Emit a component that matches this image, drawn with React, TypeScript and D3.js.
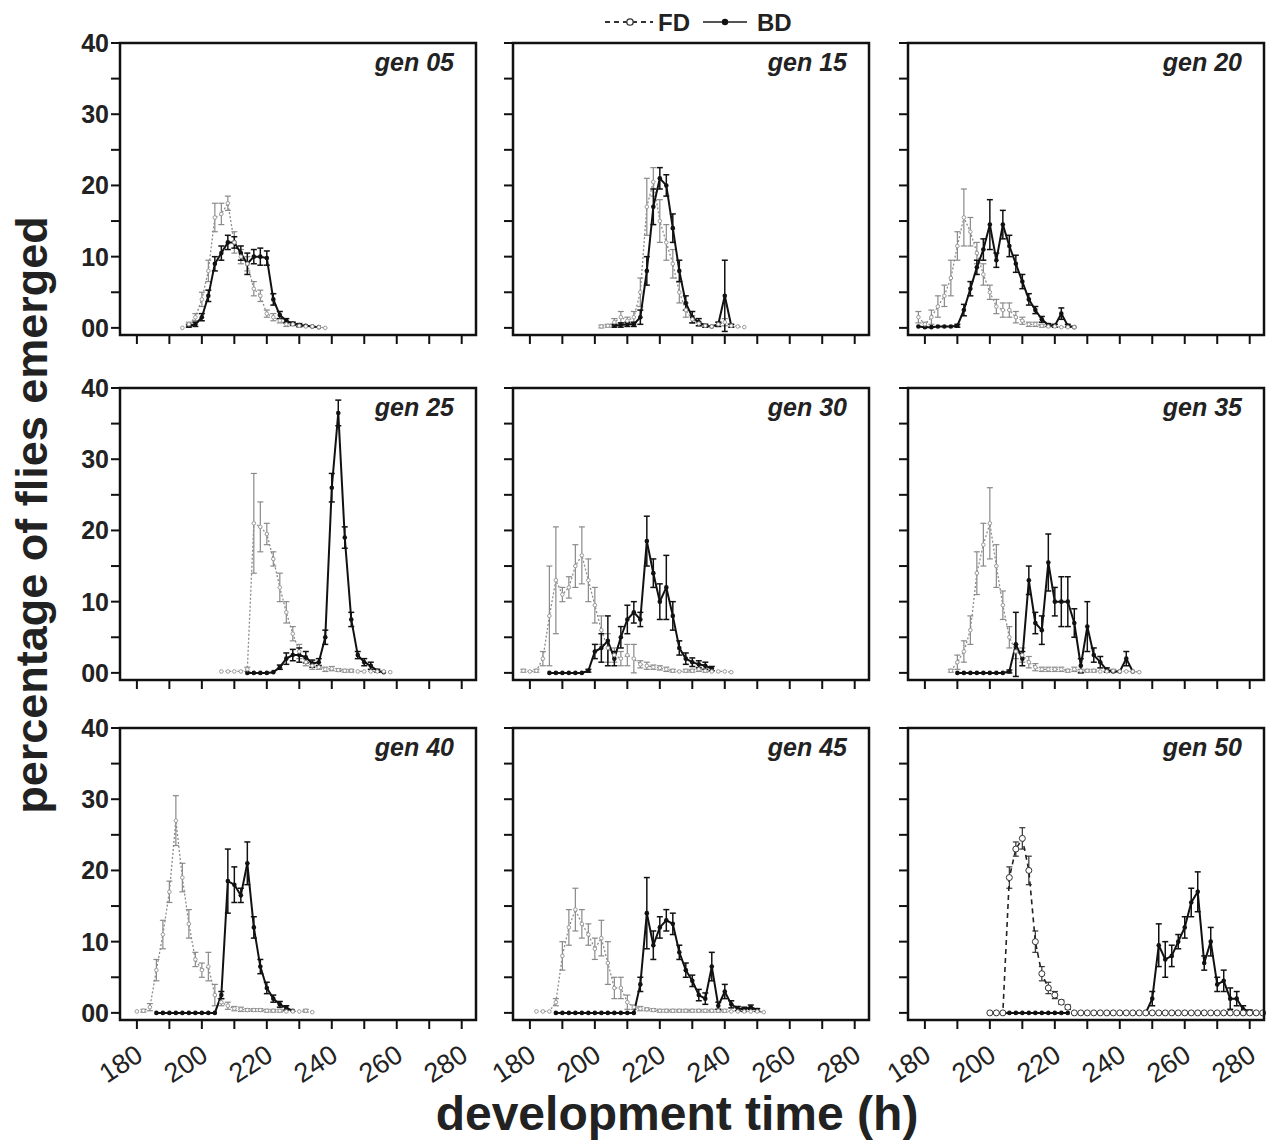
import React from 'react';
import * as d3 from 'd3';

const W = 1277;
const H = 1142;
const FONT = '"Liberation Sans", Arial, Helvetica, sans-serif';
const STEP = 2; // sampling interval in hours

// ---------- data (percentage of flies emerged, 2 h bins) ----------
const gen05FdStart = 194;
const gen05Fd = [0, 0.5, 1.5, 4, 8, 15.5, 16, 17.5, 12, 10, 9, 5.5, 4.5, 2, 1.5, 1, 0.5, 0.5, 0.3, 0.2, 0.2, 0.1, 0];
const gen05FdErr = [0, 0.3, 0.5, 1, 1.5, 2, 1.5, 1, 1.5, 1, 1, 1, 0.8, 0.5, 0.5, 0.3, 0.3, 0.2, 0.2, 0.1, 0.1, 0.1, 0];
const gen05BdStart = 196;
const gen05Bd = [0.3, 0.5, 1.5, 4.5, 9, 10.5, 12, 12, 10.5, 9, 10, 10, 9.8, 4, 1.8, 1, 0.6, 0.4, 0.3, 0.2, 0.1];
const gen05BdErr = [0.2, 0.3, 0.5, 0.8, 1, 1, 1, 0.8, 1, 1.5, 1, 1.2, 1, 0.8, 0.5, 0.3, 0.2, 0.2, 0.1, 0.1, 0];

const gen15FdStart = 202;
const gen15Fd = [0.2, 0.3, 0.8, 1.5, 1, 1.5, 5, 17, 20.5, 15, 12, 9, 5, 2.5, 1.2, 0.6, 0.3, 0.2, 0.5, 0.8, 0.3, 0.2, 0.1];
const gen15FdErr = [0.2, 0.2, 0.5, 0.8, 0.5, 0.8, 2, 4, 2, 3, 2.5, 2, 1.5, 1, 0.5, 0.3, 0.2, 0.1, 0.3, 0.5, 0.2, 0.1, 0];
const gen15BdStart = 206;
const gen15Bd = [0.3, 0.4, 0.5, 0.5, 1.5, 8, 17, 21, 20, 14, 8, 3.5, 1.5, 0.8, 0.3, 0.2, 0.5, 4.5, 0.3];
const gen15BdErr = [0.2, 0.3, 0.3, 0.3, 1, 2, 2.5, 1.5, 1.5, 2, 1.5, 1, 0.8, 0.5, 0.2, 0.1, 0.3, 5, 0.2];

const gen20FdStart = 178;
const gen20Fd = [1.5, 0.5, 1.5, 3, 4.5, 7, 11.5, 15.5, 13.5, 10.5, 7.5, 5, 3, 2.5, 2.5, 1.5, 1, 0.5, 0.5, 0.3, 0.2, 0.2, 0.1, 0.1, 0.1];
const gen20FdErr = [0.8, 0.3, 1, 1.5, 1.5, 2.5, 2, 4, 2, 1.5, 1.5, 1, 1, 1, 1, 0.8, 0.5, 0.3, 0.3, 0.2, 0.1, 0.1, 0.1, 0.1, 0];
const gen20BdStart = 178;
const gen20Bd = [0.2, 0.1, 0.1, 0.2, 0.2, 0.2, 0.3, 2.5, 5.5, 8.5, 11, 14.5, 9.5, 14.5, 11.5, 9, 6.5, 4, 2.5, 1.2, 0.4, 0.3, 2, 0.3, 0.1];
const gen20BdErr = [0.1, 0.1, 0.1, 0.1, 0.1, 0.1, 0.2, 0.8, 1, 1, 1.5, 3.5, 1, 2, 1.5, 1.2, 1, 0.8, 0.5, 0.4, 0.2, 0.2, 0.8, 0.2, 0];

const gen25FdStart = 206;
const gen25Fd = [0.2, 0.2, 0.2, 0.2, 0.5, 21, 20.5, 19.5, 16, 12, 8.5, 5.5, 3, 1.5, 1, 0.8, 0.5, 0.6, 0.4, 0.3, 0.3, 0.2, 0.2, 0.2, 0.2, 0.2, 0.1];
const gen25FdErr = [0.1, 0.1, 0.1, 0.1, 0.3, 7, 3.5, 1.5, 1, 2, 1.5, 1, 1, 0.5, 0.5, 0.3, 0.3, 0.3, 0.2, 0.2, 0.2, 0.1, 0.1, 0.1, 0.1, 0.1, 0];
const gen25BdStart = 214;
const gen25Bd = [0, 0, 0, 0, 0.1, 0.8, 2, 2.5, 2.5, 2.2, 1.3, 1.5, 5, 26, 36.5, 19, 7.5, 2.5, 1.5, 1, 0.3, 0.1];
const gen25BdErr = [0, 0, 0, 0, 0.1, 0.3, 0.8, 0.8, 1, 0.8, 0.5, 0.5, 1, 2, 1.8, 1.5, 1, 0.5, 0.5, 0.5, 0.2, 0];

const gen30FdStart = 178;
const gen30Fd = [0.3, 0.2, 0.3, 2, 8, 13, 11, 12, 15, 16.5, 13, 9.5, 6, 3.5, 2.5, 2, 2.5, 2, 1.2, 1, 0.8, 0.7, 0.5, 0.3, 0.2, 0.3, 0.3, 0.5, 0.3, 0.2, 0.2, 0.2, 0.1];
const gen30FdErr = [0.2, 0.1, 0.2, 1, 7, 7.5, 1, 1.5, 3, 4, 3, 2.5, 2, 2, 1, 1, 1.5, 2, 0.5, 0.5, 0.3, 0.3, 0.3, 0.2, 0.1, 0.2, 0.2, 0.3, 0.2, 0.1, 0.1, 0.1, 0];
const gen30BdStart = 186;
const gen30Bd = [0, 0, 0, 0, 0, 0, 0.3, 3, 3.5, 4.5, 2, 5, 7.5, 8.5, 7.5, 18.5, 14, 10, 12, 8, 3.5, 2, 1.5, 1.2, 1, 0.6];
const gen30BdErr = [0, 0, 0, 0, 0, 0, 0.2, 1, 2, 3.5, 1, 1.5, 2, 1.5, 1, 3.5, 2, 2.5, 4.5, 2, 1, 0.8, 0.6, 0.5, 0.5, 0.3];

const gen35FdStart = 188;
const gen35Fd = [0.3, 1.5, 3, 6, 14, 18, 21, 15, 9.5, 5, 3, 2.5, 1.5, 0.8, 0.5, 0.5, 0.5, 0.5, 0.3, 0.5, 0.3, 0.3, 0.3, 0.2, 0.2, 0.3, 0.2, 0.2, 0.2, 0.1];
const gen35FdErr = [0.2, 1, 1.5, 2, 3, 3, 5, 3, 2, 1.5, 1, 1, 0.8, 0.5, 0.3, 0.3, 0.3, 0.3, 0.2, 0.3, 0.2, 0.2, 0.2, 0.1, 0.1, 0.2, 0.1, 0.1, 0.1, 0];
const gen35BdStart = 190;
const gen35Bd = [0, 0, 0, 0, 0, 0, 0, 0, 0.2, 4, 2, 13, 7, 6, 15.5, 10, 10, 10, 7, 1, 6.5, 2.5, 1.5, 0.4, 0.2, 0.2, 2, 0.2];
const gen35BdErr = [0, 0, 0, 0, 0, 0, 0, 0, 0.2, 4.5, 1, 2, 1.5, 2, 4, 2, 3.5, 3.5, 2, 1, 3.5, 1, 0.8, 0.3, 0.1, 0.1, 1, 0.1];

const gen40FdStart = 180;
const gen40Fd = [0.2, 0.3, 0.8, 6, 11, 17, 27, 19, 12.5, 7.5, 6, 6.5, 2.5, 1.5, 1, 0.6, 0.5, 0.4, 0.4, 0.4, 0.3, 0.3, 0.3, 0.2, 0.2, 0.2, 0.3, 0.1];
const gen40FdErr = [0.1, 0.2, 0.5, 1.5, 2, 1.5, 3.5, 2, 2, 1, 1, 2, 1.5, 0.5, 0.5, 0.3, 0.3, 0.2, 0.2, 0.2, 0.2, 0.2, 0.2, 0.1, 0.1, 0.1, 0.2, 0];
const gen40BdStart = 186;
const gen40Bd = [0, 0, 0, 0, 0, 0, 0, 0, 0, 0, 2.5, 18.5, 18, 16.5, 21, 12, 6.5, 3.5, 2, 1.2, 0.7, 0.3];
const gen40BdErr = [0, 0, 0, 0, 0, 0, 0, 0, 0, 0, 0.5, 4.5, 2.5, 1, 3, 1.5, 1, 0.8, 0.5, 0.4, 0.3, 0.1];

const gen45FdStart = 182;
const gen45Fd = [0.2, 0.2, 0.2, 1.5, 8, 12, 14.5, 12.5, 11, 9, 10.5, 7, 3.5, 3.5, 1.5, 0.8, 0.6, 0.5, 0.4, 0.3, 0.3, 0.3, 0.3, 0.3, 0.3, 0.3, 0.3, 0.3, 0.3, 0.3, 0.2, 0.2, 0.2, 0.2, 0.2, 0.1];
const gen45FdErr = [0.1, 0.1, 0.1, 0.5, 2, 2.5, 3, 2, 1.5, 1.5, 2.5, 3, 1.5, 1.5, 1, 0.3, 0.3, 0.2, 0.2, 0.2, 0.2, 0.2, 0.2, 0.2, 0.2, 0.2, 0.2, 0.2, 0.2, 0.2, 0.1, 0.1, 0.1, 0.1, 0.1, 0];
const gen45BdStart = 188;
const gen45Bd = [0, 0, 0, 0, 0, 0, 0, 0, 0, 0, 0, 0, 0, 4, 14, 9.5, 12, 13, 12.5, 8.5, 6, 4.5, 2.5, 2, 6.5, 1, 3, 1.2, 0.6, 0.5, 0.8, 0.4];
const gen45BdErr = [0, 0, 0, 0, 0, 0, 0, 0, 0, 0, 0, 0, 0, 1, 5, 2, 1.5, 1.5, 1.5, 1, 1, 0.8, 0.8, 0.8, 2, 0.5, 1, 0.5, 0.3, 0.3, 0.3, 0.2];

const gen50FdStart = 200;
const gen50Fd = [0, 0, 0, 19, 23, 24.5, 20, 10, 5.5, 3.5, 2.5, 1.5, 0.8,
  0, 0, 0, 0, 0, 0, 0, 0, 0, 0, 0, 0, 0, 0, 0, 0, 0, 0, 0, 0, 0, 0, 0, 0, 0, 0, 0, 0, 0, 0];
const gen50FdErr = [0, 0, 0, 1.5, 1, 1.5, 2, 1.5, 1, 0.8, 0.5, 0.3, 0.3,
  0, 0, 0, 0, 0, 0, 0, 0, 0, 0, 0, 0, 0, 0, 0, 0, 0, 0, 0, 0, 0, 0, 0, 0, 0, 0, 0, 0, 0, 0];
const gen50BdStart = 204;
const gen50Bd: (number | null)[] = [0, 0, 0, 0, 0, 0, 0, 0, 0, 0, 0,
  null, null, null, null, null, null, null, null, null, null, null,
  0, 2, 9.5, 7.5, 8, 10, 12, 15.5, 17, 7, 10, 4, 4.5, 2, 2, 0.5, 0.2];
const gen50BdErr = [0, 0, 0, 0, 0, 0, 0, 0, 0, 0, 0,
  0, 0, 0, 0, 0, 0, 0, 0, 0, 0, 0,
  0, 1, 3, 2.5, 1.5, 1, 1.5, 2, 2.8, 1, 2, 1, 1.5, 1.5, 1, 0.5, 0.2];

const panelLabels = ['gen 05', 'gen 15', 'gen 20', 'gen 25', 'gen 30', 'gen 35', 'gen 40', 'gen 45', 'gen 50'];
const xTickValues = [180, 190, 200, 210, 220, 230, 240, 250, 260, 270, 280];
const xTickLabels = ['180', '', '200', '', '220', '', '240', '', '260', '', '280'];
const yTickValues = [0, 5, 10, 15, 20, 25, 30, 35, 40];
const yTickLabels = ['00', '', '10', '', '20', '', '30', '', '40'];
const legendLabels = ['FD', 'BD'];
const xTitle = 'development time (h)';
const yTitle = 'percentage of flies emerged';

// ---------- structures ----------
type Series = { start: number; values: (number | null)[]; errors: number[] };
type Panel = { label: string; fd: Series; bd: Series; darkFd?: boolean };

const panels: Panel[] = [
  { label: panelLabels[0], fd: { start: gen05FdStart, values: gen05Fd, errors: gen05FdErr }, bd: { start: gen05BdStart, values: gen05Bd, errors: gen05BdErr } },
  { label: panelLabels[1], fd: { start: gen15FdStart, values: gen15Fd, errors: gen15FdErr }, bd: { start: gen15BdStart, values: gen15Bd, errors: gen15BdErr } },
  { label: panelLabels[2], fd: { start: gen20FdStart, values: gen20Fd, errors: gen20FdErr }, bd: { start: gen20BdStart, values: gen20Bd, errors: gen20BdErr } },
  { label: panelLabels[3], fd: { start: gen25FdStart, values: gen25Fd, errors: gen25FdErr }, bd: { start: gen25BdStart, values: gen25Bd, errors: gen25BdErr } },
  { label: panelLabels[4], fd: { start: gen30FdStart, values: gen30Fd, errors: gen30FdErr }, bd: { start: gen30BdStart, values: gen30Bd, errors: gen30BdErr } },
  { label: panelLabels[5], fd: { start: gen35FdStart, values: gen35Fd, errors: gen35FdErr }, bd: { start: gen35BdStart, values: gen35Bd, errors: gen35BdErr } },
  { label: panelLabels[6], fd: { start: gen40FdStart, values: gen40Fd, errors: gen40FdErr }, bd: { start: gen40BdStart, values: gen40Bd, errors: gen40BdErr } },
  { label: panelLabels[7], fd: { start: gen45FdStart, values: gen45Fd, errors: gen45FdErr }, bd: { start: gen45BdStart, values: gen45Bd, errors: gen45BdErr } },
  { label: panelLabels[8], fd: { start: gen50FdStart, values: gen50Fd, errors: gen50FdErr }, bd: { start: gen50BdStart, values: gen50Bd, errors: gen50BdErr }, darkFd: true },
];

type Pt = { t: number; v: number | null; e: number };
const toPoints = (s: Series): Pt[] => s.values.map((v, i) => ({ t: s.start + i * STEP, v, e: s.errors[i] ?? 0 }));

// ---------- layout ----------
const colLefts = [120, 513, 908];
const rowTops = [43, 388, 728];
const PW = 356;
const PH = 292;
const X_DOMAIN: [number, number] = [174.8, 284.4];
const Y_DOMAIN: [number, number] = [-1, 40];
const TICK = 9;

function ErrorBars({ pts, x, y, color, width }: { pts: Pt[]; x: any; y: any; color: string; width: number }) {
  return (
    <g stroke={color} strokeWidth={width} fill="none">
      {pts.filter(p => p.v != null && p.e > 0.15).map((p, i) => {
        const cx = x(p.t);
        const y1 = y((p.v as number) + p.e);
        const y0 = y(Math.max(Y_DOMAIN[0], (p.v as number) - p.e));
        return (
          <g key={i}>
            <line x1={cx} x2={cx} y1={y0} y2={y1} />
            <line x1={cx - 3} x2={cx + 3} y1={y1} y2={y1} />
            <line x1={cx - 3} x2={cx + 3} y1={y0} y2={y0} />
          </g>
        );
      })}
    </g>
  );
}

function PanelView({ panel, col, row }: { panel: Panel; col: number; row: number }) {
  const left = colLefts[col];
  const top = rowTops[row];
  const x = d3.scaleLinear().domain(X_DOMAIN).range([left, left + PW]);
  const y = d3.scaleLinear().domain(Y_DOMAIN).range([top + PH, top]);
  const line = d3.line<Pt>().defined(d => d.v != null).x(d => x(d.t)).y(d => y(d.v as number));
  const fdPts = toPoints(panel.fd);
  const bdPts = toPoints(panel.bd);
  const dark = !!panel.darkFd;
  const fdColor = dark ? '#222' : '#8c8c8c';
  return (
    <g>
      {/* ticks */}
      <g stroke="#111" strokeWidth={2}>
        {yTickValues.map(v => (
          <line key={'y' + v} x1={left - TICK} x2={left} y1={y(v)} y2={y(v)} />
        ))}
        {xTickValues.map(t => (
          <line key={'x' + t} x1={x(t)} x2={x(t)} y1={top + PH} y2={top + PH + TICK} />
        ))}
      </g>
      {col === 0 && (
        <g fontFamily={FONT} fontSize={25} fontWeight="bold" fill="#222" textAnchor="end">
          {yTickValues.map((v, i) => yTickLabels[i] ? (
            <text key={v} x={left - 11} y={y(v)} dominantBaseline="central">{yTickLabels[i]}</text>
          ) : null)}
        </g>
      )}
      {row === 2 && (
        <g fontFamily={FONT} fontSize={27} fill="#222" textAnchor="middle">
          {xTickValues.map((t, i) => xTickLabels[i] ? (
            <text key={t} transform={`translate(${x(t) - 16},${top + PH + 44}) rotate(-33)`} dominantBaseline="central">{xTickLabels[i]}</text>
          ) : null)}
        </g>
      )}
      {/* FD */}
      <ErrorBars pts={fdPts} x={x} y={y} color={dark ? '#333' : '#8a8a8a'} width={1.2} />
      <path d={line(fdPts) || ''} fill="none" stroke={fdColor} strokeWidth={dark ? 1.6 : 1.3} strokeDasharray={dark ? '5 4' : '2 2'} />
      {/* BD */}
      <ErrorBars pts={bdPts} x={x} y={y} color="#111" width={1.5} />
      <path d={line(bdPts) || ''} fill="none" stroke="#111" strokeWidth={2} />
      <g fill="#111">
        {bdPts.filter(p => p.v != null).map((p, i) => (
          <circle key={i} cx={x(p.t)} cy={y(p.v as number)} r={2.3} />
        ))}
      </g>
      <g fill="#fff" stroke={dark ? '#333' : '#999'} strokeWidth={1}>
        {fdPts.filter(p => p.v != null).map((p, i) => (
          <circle key={i} cx={x(p.t)} cy={y(p.v as number)} r={dark ? 3 : 1.8} />
        ))}
      </g>
      {/* frame */}
      <rect x={left} y={top} width={PW} height={PH} fill="none" stroke="#111" strokeWidth={2.5} />
      <text x={left + PW - 22} y={top + 28} textAnchor="end" fontFamily={FONT} fontSize={25}
        fontWeight="bold" fontStyle="italic" fill="#222">{panel.label}</text>
    </g>
  );
}

export default function App() {
  return (
    <svg width={W} height={H} viewBox={`0 0 ${W} ${H}`}
      style={{ position: 'absolute', left: 0, top: 0, background: '#fff', display: 'block' }}>
      <rect x={0} y={0} width={W} height={H} fill="#fff" />
      {panels.map((p, i) => (
        <PanelView key={p.label} panel={p} col={i % 3} row={Math.floor(i / 3)} />
      ))}
      {/* legend */}
      <g fontFamily={FONT} fontSize={24} fontWeight="bold" fill="#222">
        <line x1={605} x2={653} y1={22} y2={22} stroke="#333" strokeWidth={1.8} strokeDasharray="5 4" />
        <circle cx={630} cy={22} r={3.2} fill="#fff" stroke="#333" strokeWidth={1.3} />
        <text x={658} y={31}>{legendLabels[0]}</text>
        <line x1={703} x2={747} y1={22} y2={22} stroke="#555" strokeWidth={2} />
        <circle cx={725} cy={22} r={3.2} fill="#111" />
        <text x={757} y={31}>{legendLabels[1]}</text>
      </g>
      <text x={677} y={1130} textAnchor="middle" fontFamily={FONT} fontSize={48} fontWeight="bold" fill="#222">{xTitle}</text>
      <text transform="translate(47,515) rotate(-90)" textAnchor="middle" fontFamily={FONT} fontSize={45}
        fontWeight="bold" fill="#222">{yTitle}</text>
    </svg>
  );
}
